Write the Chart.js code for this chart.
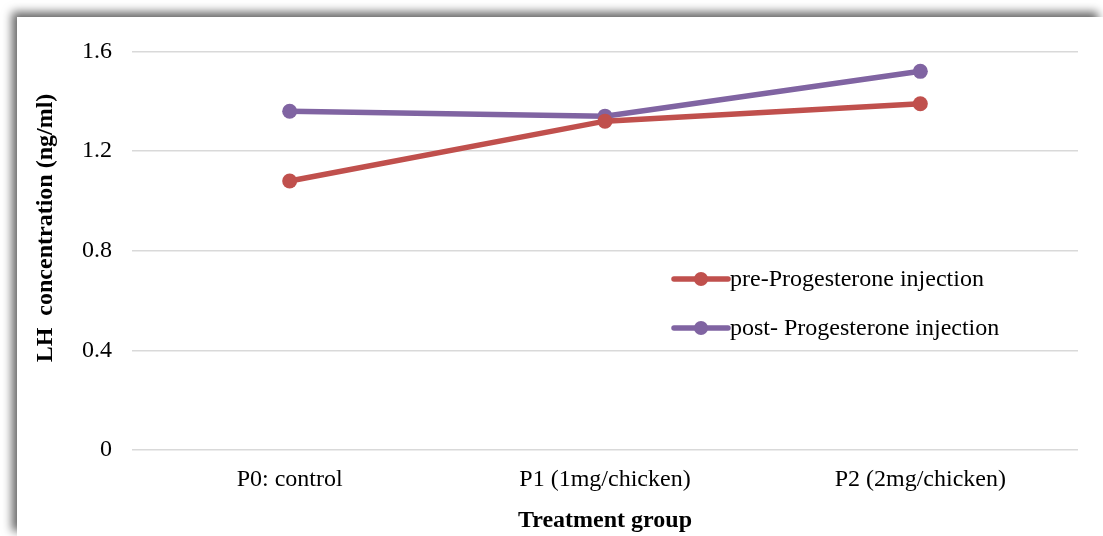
<!DOCTYPE html>
<html>
<head>
<meta charset="utf-8">
<script src="https://cdn.jsdelivr.net/npm/chart.js@4.4.1/dist/chart.umd.min.js"></script>
<style>
    html, body { margin: 0; padding: 0; background: #fff; overflow: hidden; }
    #card {
        position: absolute;
        left: 17px;
        top: 17px;
        width: 1086px;
        height: 519px;
        background: #fff;
        box-shadow: -5px -5px 9px rgba(0, 0, 0, 0.6);
    }
</style>
</head>
<body>
<div id="card"><canvas id="myChart" width="1086" height="519"></canvas></div>
<script>
// dados
const grupos = ['P0: control', 'P1 (1mg/chicken)', 'P2 (2mg/chicken)'];
const preProgesterona = [1.08, 1.32, 1.39];
const posProgesterona = [1.36, 1.34, 1.52];
const nomesSeries = ['pre-Progesterone injection', 'post- Progesterone injection'];
const ticksY = [0, 0.4, 0.8, 1.2, 1.6];
const tituloY = 'LH  concentration (ng/ml)';

const fonte = '"Liberation Serif", "Times New Roman", serif';

// legenda desenhada dentro da area do grafico + titulo do eixo y (um pouco acima do centro, como no original)
const legendaInterna = {
    id: 'legendaInterna',
    afterDraw(chart) {
        const ctx = chart.ctx;
        const x0 = 657;
        const linhas = [262, 311];
        chart.data.datasets.forEach((ds, i) => {
            const y = linhas[i];
            ctx.save();
            ctx.strokeStyle = ds.borderColor;
            ctx.lineWidth = 5.5;
            ctx.lineCap = 'round';
            ctx.beginPath();
            ctx.moveTo(x0, y);
            ctx.lineTo(x0 + 54, y);
            ctx.stroke();
            ctx.fillStyle = ds.borderColor;
            ctx.beginPath();
            ctx.arc(x0 + 27, y, 7, 0, Math.PI * 2);
            ctx.fill();
            ctx.fillStyle = '#000';
            ctx.font = '24px ' + fonte;
            ctx.textBaseline = 'middle';
            ctx.fillText(ds.label, x0 + 56, y + 1);
            ctx.restore();
        });

        ctx.save();
        ctx.translate(29, 211);
        ctx.rotate(-Math.PI / 2);
        ctx.fillStyle = '#000';
        ctx.font = 'bold 24px ' + fonte;
        ctx.textAlign = 'center';
        ctx.textBaseline = 'middle';
        ctx.fillText(tituloY, 0, 0);
        ctx.restore();
    }
};

const ctx = document.getElementById('myChart');

new Chart(ctx, {
    type: 'line',
    data: {
        labels: grupos,
        datasets: [{
            label: nomesSeries[0],
            data: preProgesterona,
            borderColor: '#C0504D',
            backgroundColor: '#C0504D',
            borderWidth: 5.5,
            pointRadius: 7.5,
            pointHoverRadius: 7.5,
            pointBorderWidth: 0
        }, {
            label: nomesSeries[1],
            data: posProgesterona,
            borderColor: '#8064A2',
            backgroundColor: '#8064A2',
            borderWidth: 5.5,
            pointRadius: 7.5,
            pointHoverRadius: 7.5,
            pointBorderWidth: 0
        }]
    },
    options: {
        responsive: false,
        animation: false,
        devicePixelRatio: 1,
        layout: {
            padding: { left: 8, right: 25, top: 32, bottom: 1 }
        },
        plugins: {
            legend: { display: false },
            tooltip: { enabled: false }
        },
        scales: {
            x: {
                offset: true,
                afterFit(scale) {
                    scale.height = 85;
                },
                grid: { display: false, drawTicks: false },
                border: { display: false },
                ticks: {
                    color: '#000',
                    padding: 15,
                    font: { family: fonte, size: 24 }
                },
                title: {
                    display: true,
                    text: 'Treatment group',
                    color: '#000',
                    padding: { top: 0, bottom: 0 },
                    font: { family: fonte, size: 24, weight: 'bold' }
                }
            },
            y: {
                min: 0,
                max: 1.6,
                afterFit(scale) {
                    scale.width = 107;
                },
                afterBuildTicks(scale) {
                    scale.ticks = ticksY.map(v => ({ value: v }));
                },
                grid: {
                    color: '#D9D9D9',
                    lineWidth: 1.5,
                    drawTicks: false
                },
                border: { display: false },
                ticks: {
                    color: '#000',
                    padding: 20,
                    font: { family: fonte, size: 24 },
                    callback: v => (v === 0 ? '0' : v.toFixed(1))
                },
                title: { display: false }
            }
        }
    },
    plugins: [legendaInterna]
});
</script>
</body>
</html>
